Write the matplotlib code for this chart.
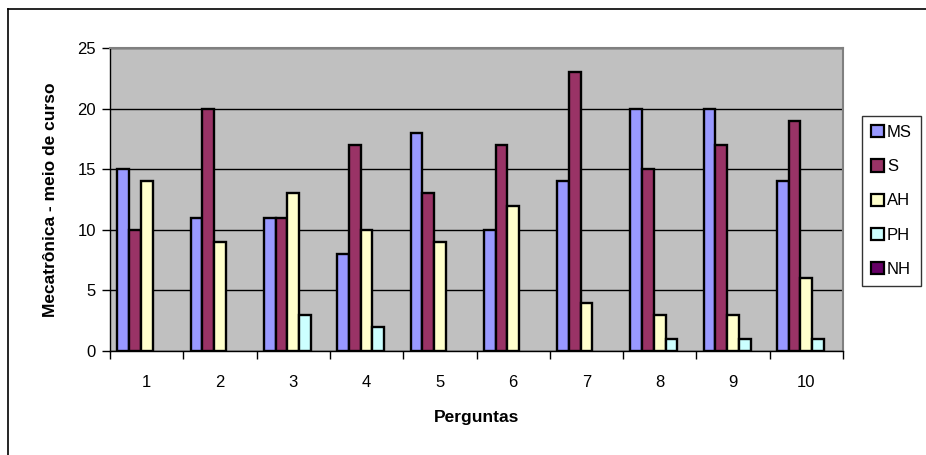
import matplotlib.pyplot as plt
import numpy as np
from matplotlib.lines import Line2D
from matplotlib.patches import Patch

plt.rcParams['font.family'] = ['Liberation Sans', 'DejaVu Sans']

perguntas = ['1', '2', '3', '4', '5', '6', '7', '8', '9', '10']
series = ['MS', 'S', 'AH', 'PH', 'NH']
ms = [15, 11, 11, 8, 18, 10, 14, 20, 20, 14]
s = [10, 20, 11, 17, 13, 17, 23, 15, 17, 19]
ah = [14, 9, 13, 10, 9, 12, 4, 3, 3, 6]
ph = [0, 0, 3, 2, 0, 0, 0, 1, 1, 1]
nh = [0, 0, 0, 0, 0, 0, 0, 0, 0, 0]
cores = ['#9999FF', '#993366', '#FFFFCC', '#CCFFFF', '#660066']

W, H = 926, 455
fig = plt.figure(figsize=(W / 100, H / 100), dpi=100)
ax = fig.add_axes([110 / W, 1 - 351 / H, 733 / W, 303 / H])
ax.set_facecolor('#C0C0C0')

x = np.arange(1, len(perguntas) + 1)
bw = 0.16
for i, (nome, vals) in enumerate(zip(series, [ms, s, ah, ph, nh])):
    v = np.array(vals, dtype=float)
    barras = ax.bar(x + (i - 2) * bw, v, width=bw, color=cores[i], edgecolor='black',
                    linewidth=1.7, zorder=3)
    # o Excel não desenha barras de valor zero
    for b, val in zip(barras, v):
        if val == 0:
            b.set_visible(False)

ax.set_xlim(0.5, 10.5)
ax.set_ylim(0, 25)
ax.set_yticks(range(0, 26, 5))
ax.yaxis.grid(True, color='black', linewidth=1)
ax.set_axisbelow(True)
ax.set_xticks(x)
ax.set_xticklabels(perguntas)
ax.set_xticks(np.arange(0.5, 11, 1), minor=True)
ax.tick_params(axis='x', which='major', length=0, pad=17, labelsize=12)
ax.tick_params(axis='x', which='minor', length=6, width=1)
ax.tick_params(axis='y', length=6, width=1, pad=4, labelsize=12)

for lado in ['top', 'right']:
    ax.spines[lado].set_color('#808080')
    ax.spines[lado].set_linewidth(1.5)
for lado in ['left', 'bottom']:
    ax.spines[lado].set_color('black')
    ax.spines[lado].set_linewidth(1)

ax.set_xlabel('Perguntas', fontweight='bold', fontsize=12.5, labelpad=15)
ax.set_ylabel('Mecatrônica - meio de curso', fontweight='bold', fontsize=12.5, labelpad=14)

handles = [Patch(facecolor=c, edgecolor='black', linewidth=1.6) for c in cores]
leg = fig.legend(handles, series, loc='upper left', bbox_to_anchor=(862 / W, 1 - 116 / H),
                 frameon=True, fancybox=False, edgecolor='black', fontsize=12,
                 handlelength=0.75, handleheight=0.75, handletextpad=0.2,
                 labelspacing=1.15, borderpad=0.55, borderaxespad=0)
leg.get_frame().set_linewidth(1)

# moldura externa do gráfico
fig.add_artist(Line2D([8 / W, 1], [1 - 9 / H, 1 - 9 / H], color='black', linewidth=1.2))
fig.add_artist(Line2D([8 / W, 8 / W], [0, 1 - 9 / H], color='black', linewidth=1.2))

fig.savefig('out.png', dpi=100)
